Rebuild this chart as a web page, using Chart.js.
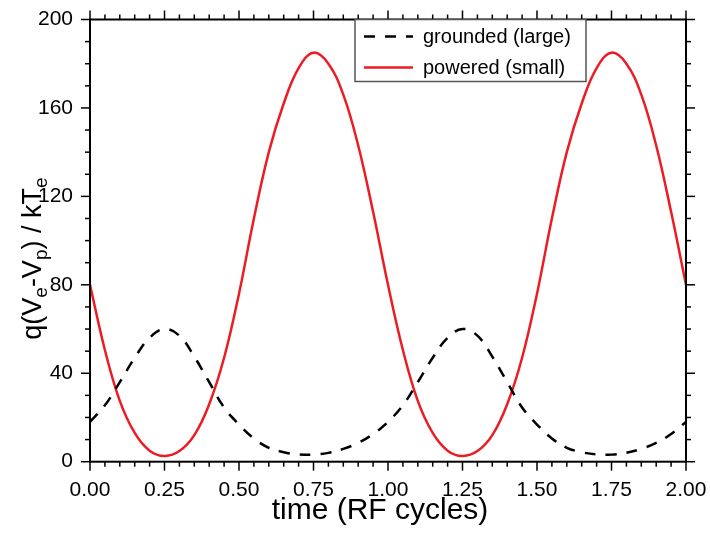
<!DOCTYPE html>
<html>
<head>
<meta charset="utf-8">
<script src="https://cdn.jsdelivr.net/npm/chart.js@4.4.0/dist/chart.umd.min.js"></script>
<style>
html,body{margin:0;padding:0;background:#fff;}
#wrap{width:710px;height:536px;}
</style>
</head>
<body>
<div id="wrap"><canvas id="c" width="710" height="536"></canvas></div>
<script>
// ---- data ----
const timeCycles = [0.00,0.05,0.10,0.15,0.20,0.25,0.30,0.35,0.40,0.45,0.50,0.55,0.60,0.65,0.70,0.75,0.80,0.85,0.90,0.95,
                    1.00,1.05,1.10,1.15,1.20,1.25,1.30,1.35,1.40,1.45,1.50,1.55,1.60,1.65,1.70,1.75,1.80,1.85,1.90,1.95,2.00];
const grounded = [18,25.5,36,47,56,60,57,47.5,36,24.5,16.8,10.5,6.3,4.3,3.3,3.2,4.0,5.8,8.5,12.5,
                  18,25.5,36,47,56,60,57,47.5,36,24.5,16.8,10.5,6.3,4.3,3.3,3.2,4.0,5.8,8.5,12.5,18];
const powered  = [80,50.5,27.5,13,5,2.6,4.8,12,26,47,76,110,140,162,178,185,180,166,143,113,
                  80,50.5,27.5,13,5,2.6,4.8,12,26,47,76,110,140,162,178,185,180,166,143,113,80];
const seriesLabels = ['grounded (large)','powered (small)'];
const xTickValues = [0,0.25,0.5,0.75,1,1.25,1.5,1.75,2];
const yTickValues = [0,40,80,120,160,200];
const xMinorStep = 0.05;
const yMinorStep = 10;
const xTitle = 'time (RF cycles)';
// y title pieces: [text, isSubscript]
const yTitleParts = [['q(V',false],['e',true],['-V',false],['p',true],[') / kT',false],['e',true]];

const FONT = "'Liberation Sans', Arial, Helvetica, sans-serif";

const framePlugin = {
  id: 'frame',
  afterDatasetsDraw(chart) {
    const {ctx, chartArea: a, scales: {x, y}} = chart;
    ctx.save();
    ctx.strokeStyle = '#000';
    ctx.lineWidth = 2;
    ctx.lineCap = 'butt';
    ctx.strokeRect(a.left, a.top, a.right - a.left, a.bottom - a.top);
    ctx.lineWidth = 1.5;
    const seg = (x1, y1, x2, y2) => { ctx.beginPath(); ctx.moveTo(x1, y1); ctx.lineTo(x2, y2); ctx.stroke(); };
    const nx = Math.round((x.max - x.min) / xMinorStep);
    for (let i = 0; i <= nx; i++) {
      const v = x.min + i * xMinorStep;
      const px = x.getPixelForValue(v);
      const major = xTickValues.some(t => Math.abs(t - v) < 1e-6);
      const L = major ? 9 : 5;
      seg(px, a.bottom, px, a.bottom + L);
      seg(px, a.top, px, a.top - L);
    }
    const ny = Math.round((y.max - y.min) / yMinorStep);
    for (let i = 0; i <= ny; i++) {
      const v = y.min + i * yMinorStep;
      const py = y.getPixelForValue(v);
      const major = yTickValues.some(t => Math.abs(t - v) < 1e-6);
      const L = major ? 9 : 5;
      seg(a.left, py, a.left - L, py);
      seg(a.right, py, a.right + L, py);
    }

    // legend box
    const lx = a.left + 265, ly = a.top, lw = 231, lh = 62;
    ctx.fillStyle = '#fff';
    ctx.fillRect(lx, ly, lw, lh);
    ctx.strokeStyle = '#555';
    ctx.lineWidth = 1.5;
    ctx.strokeRect(lx, ly, lw, lh);
    chart.data.datasets.forEach((ds, i) => {
      const rowY = ly + 17 + i * 31;
      ctx.save();
      ctx.strokeStyle = ds.borderColor;
      ctx.lineWidth = ds.borderWidth;
      ctx.setLineDash(ds.borderDash || []);
      seg(lx + 9, rowY, lx + 58, rowY);
      ctx.restore();
      ctx.fillStyle = '#000';
      ctx.font = '20px ' + FONT;
      ctx.textBaseline = 'alphabetic';
      ctx.textAlign = 'left';
      ctx.fillText(ds.label, lx + 68, rowY + 6);
    });

    // x title
    ctx.fillStyle = '#000';
    ctx.font = '30px ' + FONT;
    ctx.textAlign = 'center';
    ctx.textBaseline = 'alphabetic';
    ctx.fillText(xTitle, (a.left + a.right) / 2 - 8, a.bottom + 57);

    // y title (rotated, with subscripts)
    const big = 27, small = 19;
    let total = 0;
    yTitleParts.forEach(([t, sub]) => { ctx.font = (sub ? small : big) + 'px ' + FONT; total += ctx.measureText(t).width; });
    ctx.save();
    ctx.translate(41, (a.top + a.bottom) / 2 + 18);
    ctx.rotate(-Math.PI / 2);
    ctx.textAlign = 'left';
    let cx = -total / 2;
    yTitleParts.forEach(([t, sub]) => {
      ctx.font = (sub ? small : big) + 'px ' + FONT;
      ctx.fillText(t, cx, sub ? 6 : 0);
      cx += ctx.measureText(t).width;
    });
    ctx.restore();
    ctx.restore();
  }
};

new Chart(document.getElementById('c'), {
  type: 'line',
  data: {
    labels: timeCycles,
    datasets: [
      {
        label: seriesLabels[0],
        data: timeCycles.map((t, i) => ({x: t, y: grounded[i]})),
        borderColor: '#000',
        borderWidth: 2.5,
        borderDash: [11, 10],
        pointRadius: 0,
        tension: 0.4,
        fill: false
      },
      {
        label: seriesLabels[1],
        data: timeCycles.map((t, i) => ({x: t, y: powered[i]})),
        borderColor: '#ec1c24',
        borderWidth: 2.5,
        pointRadius: 0,
        tension: 0.4,
        fill: false
      }
    ]
  },
  options: {
    responsive: false,
    animation: false,
    devicePixelRatio: 1,
    layout: {padding: {top: 19.5, right: 24, left: 0, bottom: 0}},
    plugins: {legend: {display: false}, tooltip: {enabled: false}, title: {display: false}},
    scales: {
      x: {
        type: 'linear', min: 0, max: 2,
        grid: {display: false, drawTicks: false, tickLength: 0},
        border: {display: false},
        afterBuildTicks: s => { s.ticks = xTickValues.map(v => ({value: v})); },
        afterFit: s => { s.height = 74.3; s.paddingLeft = 0; s.paddingRight = 0; },
        ticks: {
          autoSkip: false, maxRotation: 0, padding: 16, color: '#000',
          font: {family: FONT, size: 21},
          callback: v => Number(v).toFixed(2)
        }
      },
      y: {
        type: 'linear', min: 0, max: 200,
        grid: {display: false, drawTicks: false, tickLength: 0},
        border: {display: false},
        afterBuildTicks: s => { s.ticks = yTickValues.map(v => ({value: v})); },
        afterFit: s => { s.width = 90; s.paddingTop = 0; s.paddingBottom = 0; },
        ticks: {
          padding: 17, color: '#000',
          font: {family: FONT, size: 21},
          callback: v => String(v)
        }
      }
    }
  },
  plugins: [framePlugin]
});
</script>
</body>
</html>
